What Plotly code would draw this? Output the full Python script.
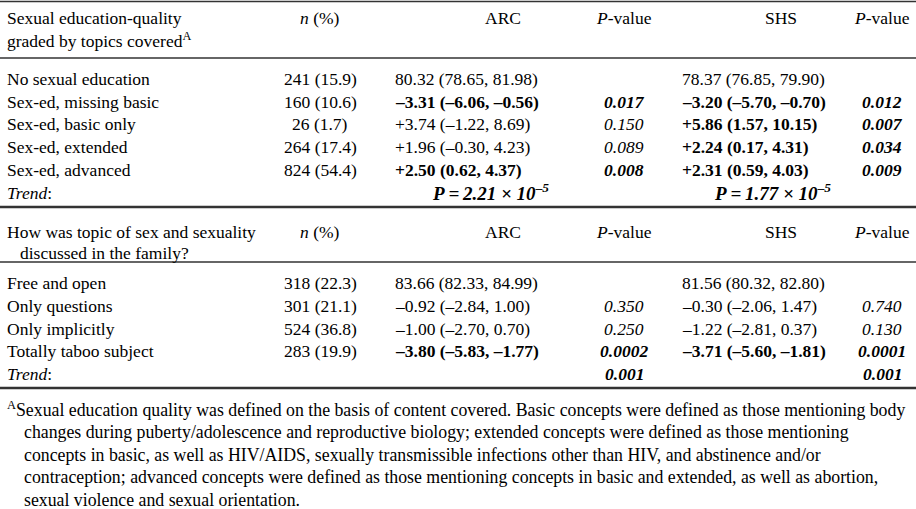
import plotly.graph_objects as go

W, H = 916, 509

# ---- data ----
sec1_title = ["Sexual education-quality", "graded by topics covered<sup>A</sup>"]
sec1_labels = ["No sexual education", "Sex-ed, missing basic", "Sex-ed, basic only",
               "Sex-ed, extended", "Sex-ed, advanced"]
sec1_n = ["241 (15.9)", "160 (10.6)", "26 (1.7)", "264 (17.4)", "824 (54.4)"]
sec1_arc = ["80.32 (78.65, 81.98)", "–3.31 (–6.06, –0.56)", "+3.74 (–1.22, 8.69)",
            "+1.96 (–0.30, 4.23)", "+2.50 (0.62, 4.37)"]
sec1_arc_bold = [False, True, False, False, True]
sec1_arc_p = ["", "0.017", "0.150", "0.089", "0.008"]
sec1_arc_p_bold = [False, True, False, False, True]
sec1_shs = ["78.37 (76.85, 79.90)", "–3.20 (–5.70, –0.70)", "+5.86 (1.57, 10.15)",
            "+2.24 (0.17, 4.31)", "+2.31 (0.59, 4.03)"]
sec1_shs_bold = [False, True, True, True, True]
sec1_shs_p = ["", "0.012", "0.007", "0.034", "0.009"]
sec1_shs_p_bold = [False, True, True, True, True]
sec1_trend_arc = "P\u2009=\u20092.21 × 10<sup>–5</sup>"
sec1_trend_shs = "P\u2009=\u20091.77 × 10<sup>–5</sup>"

sec2_title = ["How was topic of sex and sexuality", "discussed in the family?"]
sec2_labels = ["Free and open", "Only questions", "Only implicitly", "Totally taboo subject"]
sec2_n = ["318 (22.3)", "301 (21.1)", "524 (36.8)", "283 (19.9)"]
sec2_arc = ["83.66 (82.33, 84.99)", "–0.92 (–2.84, 1.00)", "–1.00 (–2.70, 0.70)",
            "–3.80 (–5.83, –1.77)"]
sec2_arc_bold = [False, False, False, True]
sec2_arc_p = ["", "0.350", "0.250", "0.0002"]
sec2_arc_p_bold = [False, False, False, True]
sec2_shs = ["81.56 (80.32, 82.80)", "–0.30 (–2.06, 1.47)", "–1.22 (–2.81, 0.37)",
            "–3.71 (–5.60, –1.81)"]
sec2_shs_bold = [False, False, False, True]
sec2_shs_p = ["", "0.740", "0.130", "0.0001"]
sec2_shs_p_bold = [False, False, False, True]
sec2_trend_arc_p = "0.001"
sec2_trend_shs_p = "0.001"

footnote = [
    "<sup>A</sup>Sexual education quality was defined on the basis of content covered. Basic concepts were defined as those mentioning body",
    "changes during puberty/adolescence and reproductive biology; extended concepts were defined as those mentioning",
    "concepts in basic, as well as HIV/AIDS, sexually transmissible infections other than HIV, and abstinence and/or",
    "contraception; advanced concepts were defined as those mentioning concepts in basic and extended, as well as abortion,",
    "sexual violence and sexual orientation.",
]

# ---- layout constants ----
FONT = "Liberation Serif"
FS = 17.5
FS_NOTE = 17.8
FS_TREND = 19
X_LABEL = 5
X_N = 320
X_ARC = 393
X_ARC_P = 624
X_SHS = 680
X_SHS_P = 882
X_ARC_H = 503
X_SHS_H = 781

fig = go.Figure()
ann = []


def add(x, y, text, anchor="left", size=FS):
    ann.append(dict(x=x, y=y, xref="x", yref="y", text=text, showarrow=False,
                    xanchor=anchor, yanchor="middle",
                    font=dict(family=FONT, size=size, color="black")))


def b(t, flag):
    return f"<b>{t}</b>" if flag else t


def bi(t, flag):
    return f"<b><i>{t}</i></b>" if flag else f"<i>{t}</i>"


def header(y1, y2, title, indent2):
    add(X_LABEL, y1, title[0])
    add(X_LABEL + indent2, y2, title[1])
    add(X_N, y1, "<i>n</i> (%)", "center")
    add(X_ARC_H, y1, "ARC", "center")
    add(X_ARC_P, y1, "<i>P</i>-value", "center")
    add(X_SHS_H, y1, "SHS", "center")
    add(X_SHS_P, y1, "<i>P</i>-value", "center")


def rows(y0, dy, labels, n, arc, arcb, arcp, arcpb, shs, shsb, shsp, shspb):
    for i in range(len(labels)):
        y = y0 + i * dy
        add(X_LABEL, y, labels[i])
        add(X_N, y, n[i], "center")
        add(X_ARC, y, b(arc[i], arcb[i]))
        if arcp[i]:
            add(X_ARC_P, y, bi(arcp[i], arcpb[i]), "center")
        add(X_SHS, y, b(shs[i], shsb[i]))
        if shsp[i]:
            add(X_SHS_P, y, bi(shsp[i], shspb[i]), "center")


# section 1
header(18, 40, sec1_title, 0)
rows(79, 22.7, sec1_labels, sec1_n, sec1_arc, sec1_arc_bold, sec1_arc_p, sec1_arc_p_bold,
     sec1_shs, sec1_shs_bold, sec1_shs_p, sec1_shs_p_bold)
add(X_LABEL, 193, "<i>Trend</i>:")
add(490, 192, f"<b><i>{sec1_trend_arc}</i></b>", "center", FS_TREND)
add(772, 192, f"<b><i>{sec1_trend_shs}</i></b>", "center", FS_TREND)

# section 2
header(232, 253, sec2_title, 13)
rows(283, 22.8, sec2_labels, sec2_n, sec2_arc, sec2_arc_bold, sec2_arc_p, sec2_arc_p_bold,
     sec2_shs, sec2_shs_bold, sec2_shs_p, sec2_shs_p_bold)
add(X_LABEL, 374, "<i>Trend</i>:")
add(X_ARC_P, 374, f"<b><i>{sec2_trend_arc_p}</i></b>", "center")
add(X_SHS_P, 374, f"<b><i>{sec2_trend_shs_p}</i></b>", "center")

# footnote
for i, line in enumerate(footnote):
    add(X_LABEL if i == 0 else 22, 409 + i * 22.8, line, size=FS_NOTE)

# rules
shapes = []
for y, w in [(1.5, 1.5), (58, 1.5), (207, 2.5), (262, 1.5), (388, 2.5)]:
    shapes.append(dict(type="line", xref="x", yref="y", x0=0, x1=W, y0=y, y1=y,
                       line=dict(color="#333333", width=w)))

fig.update_layout(
    width=W, height=H, autosize=False,
    margin=dict(l=0, r=0, t=0, b=0),
    paper_bgcolor="white", plot_bgcolor="white",
    xaxis=dict(range=[0, W], visible=False, fixedrange=True),
    yaxis=dict(range=[H, 0], visible=False, fixedrange=True),
    annotations=ann, shapes=shapes, showlegend=False,
)
fig.write_html("out.html", config={"displayModeBar": False},
               post_script="document.body.style.margin='0px';document.body.style.overflow='hidden';")
